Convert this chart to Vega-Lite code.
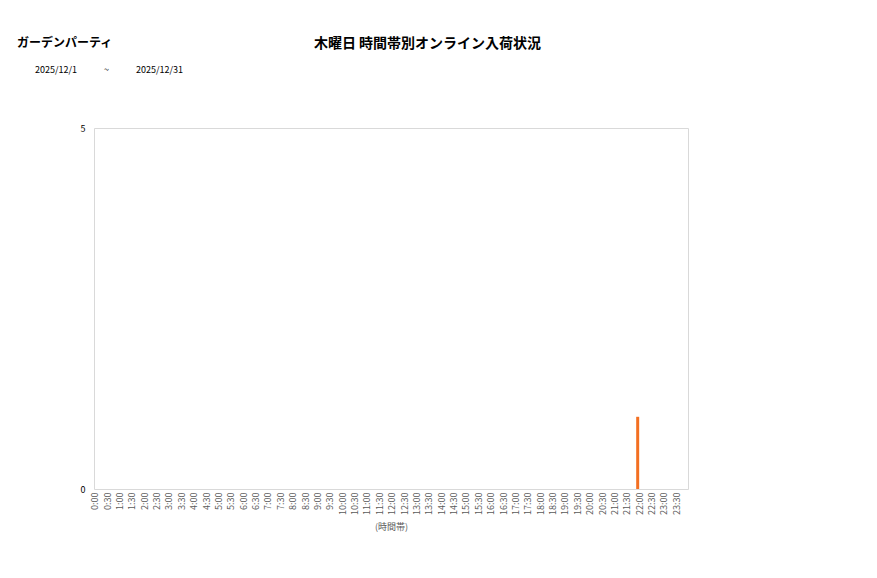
{
  "$schema": "https://vega.github.io/schema/vega-lite/v6.json",
  "autosize": "none",
  "width": 594,
  "height": 361,
  "padding": {"left": 94, "top": 128, "right": 189, "bottom": 89},
  "background": "white",
  "title": {
    "text": "ガーデンパーティ",
    "subtitle": "\u200b\u3000\u30002025/12/1\u3000\u3000\u3000~\u3000\u3000\u30002025/12/31",
    "anchor": "start",
    "frame": "group",
    "dx": -77,
    "offset": -40,
    "font": "Noto Sans CJK JP",
    "fontSize": 12,
    "fontWeight": "bold",
    "color": "#000000",
    "subtitleFont": "Noto Sans CJK JP",
    "subtitleFontSize": 9,
    "subtitleColor": "#000000",
    "subtitlePadding": 16
  },
  "data": {
    "values": [
      {"hour": "0:00", "count": 0}, {"hour": "0:30", "count": 0},
      {"hour": "1:00", "count": 0}, {"hour": "1:30", "count": 0},
      {"hour": "2:00", "count": 0}, {"hour": "2:30", "count": 0},
      {"hour": "3:00", "count": 0}, {"hour": "3:30", "count": 0},
      {"hour": "4:00", "count": 0}, {"hour": "4:30", "count": 0},
      {"hour": "5:00", "count": 0}, {"hour": "5:30", "count": 0},
      {"hour": "6:00", "count": 0}, {"hour": "6:30", "count": 0},
      {"hour": "7:00", "count": 0}, {"hour": "7:30", "count": 0},
      {"hour": "8:00", "count": 0}, {"hour": "8:30", "count": 0},
      {"hour": "9:00", "count": 0}, {"hour": "9:30", "count": 0},
      {"hour": "10:00", "count": 0}, {"hour": "10:30", "count": 0},
      {"hour": "11:00", "count": 0}, {"hour": "11:30", "count": 0},
      {"hour": "12:00", "count": 0}, {"hour": "12:30", "count": 0},
      {"hour": "13:00", "count": 0}, {"hour": "13:30", "count": 0},
      {"hour": "14:00", "count": 0}, {"hour": "14:30", "count": 0},
      {"hour": "15:00", "count": 0}, {"hour": "15:30", "count": 0},
      {"hour": "16:00", "count": 0}, {"hour": "16:30", "count": 0},
      {"hour": "17:00", "count": 0}, {"hour": "17:30", "count": 0},
      {"hour": "18:00", "count": 0}, {"hour": "18:30", "count": 0},
      {"hour": "19:00", "count": 0}, {"hour": "19:30", "count": 0},
      {"hour": "20:00", "count": 0}, {"hour": "20:30", "count": 0},
      {"hour": "21:00", "count": 0}, {"hour": "21:30", "count": 0},
      {"hour": "22:00", "count": 1}, {"hour": "22:30", "count": 0},
      {"hour": "23:00", "count": 0}, {"hour": "23:30", "count": 0}
    ]
  },
  "mark": {"type": "bar", "size": 3, "color": "#f36f21", "xOffset": -7},
  "encoding": {
    "x": {
      "field": "hour",
      "type": "ordinal",
      "sort": null,
      "scale": {"paddingInner": 0, "paddingOuter": 0},
      "axis": {
        "title": "(時間帯)",
        "titleFont": "Noto Sans CJK JP",
        "titleFontSize": 9,
        "titleFontWeight": "normal",
        "titleColor": "#595959",
        "titlePadding": 8,
        "labelAngle": -90,
        "labelOffset": -5,
        "labelFont": "Noto Sans CJK JP",
        "labelFontSize": 9,
        "labelColor": "#595959",
        "labelPadding": 3,
        "ticks": false,
        "domain": false
      }
    },
    "y": {
      "field": "count",
      "type": "quantitative",
      "scale": {"domain": [0, 5], "nice": false},
      "axis": {
        "values": [0, 5],
        "grid": false,
        "ticks": false,
        "domain": false,
        "labelFont": "Noto Sans CJK JP",
        "labelFontSize": 9,
        "labelColor": "#000000",
        "labelPadding": 9,
        "title": "木曜日 時間帯別オンライン入荷状況",
        "titleAngle": 0,
        "titleX": 333,
        "titleY": -85,
        "titleAlign": "center",
        "titleBaseline": "middle",
        "titleFont": "Noto Sans CJK JP",
        "titleFontSize": 14,
        "titleFontWeight": "bold",
        "titleColor": "#000000"
      }
    }
  },
  "config": {
    "view": {"stroke": "#d9d9d9", "strokeWidth": 1}
  }
}
